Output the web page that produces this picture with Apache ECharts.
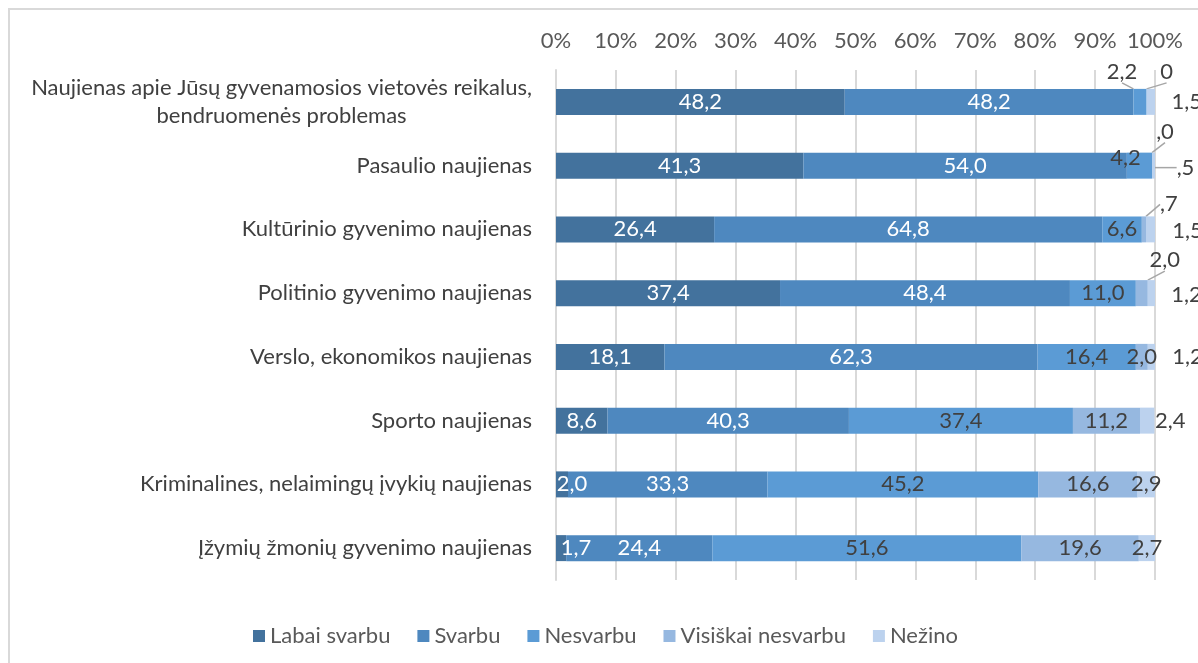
<!DOCTYPE html>
<html>
<head>
<meta charset="utf-8">
<script src="https://cdn.jsdelivr.net/npm/echarts@6/dist/echarts.min.js"></script>
<style>
  html, body { margin: 0; padding: 0; background: #fff; overflow: hidden; }
  #frame { position: absolute; left: 8px; top: 8px; width: 1300px; height: 700px; border: 2px solid #d9d9d9; box-sizing: border-box; }
  #chart { position: absolute; left: 0; top: 0; width: 1198px; height: 663px; }
</style>
</head>
<body>
<div id="frame"></div>
<div id="chart"></div>
<script>
// categories (top to bottom)
const categories = [
  'Naujienas apie Jūsų gyvenamosios vietovės reikalus,\nbendruomenės problemas',
  'Pasaulio naujienas',
  'Kultūrinio gyvenimo naujienas',
  'Politinio gyvenimo naujienas',
  'Verslo, ekonomikos naujienas',
  'Sporto naujienas',
  'Kriminalines, nelaimingų įvykių naujienas',
  'Įžymių žmonių gyvenimo naujienas'
];
const seriesNames = ['Labai svarbu', 'Svarbu', 'Nesvarbu', 'Visiškai nesvarbu', 'Nežino'];
const labaiSvarbu = [48.2, 41.3, 26.4, 37.4, 18.1, 8.6, 2.0, 1.7];
const svarbu = [48.2, 54.0, 64.8, 48.4, 62.3, 40.3, 33.3, 24.4];
const nesvarbu = [2.2, 4.2, 6.6, 11.0, 16.4, 37.4, 45.2, 51.6];
const visiskaiNesvarbu = [0, 0.0, 0.7, 2.0, 2.0, 11.2, 16.6, 19.6];
const nezino = [1.5, 0.5, 1.5, 1.2, 1.2, 2.4, 2.9, 2.7];
const tickLabels = ['0%', '10%', '20%', '30%', '40%', '50%', '60%', '70%', '80%', '90%', '100%'];

const colors = ['#43729d', '#4e88bf', '#5b9bd5', '#96b8e0', '#bcd2ee'];
const labelColors = ['#ffffff', '#ffffff', '#404040', '#404040', '#404040'];
const FONT = 'Lato';
const FS = 22;

// label nudges for the crowded small segments: [dx, dy, leader line]
const nudges = {
  0: { 6: [10, 0, false], 7: [15, 0, false] },
  2: { 0: [-18, -30, true], 1: [-14, -8, false] },
  3: { 0: [20, -30, true], 1: [13, -34, true], 2: [25, -25, true], 3: [23, -33, true] },
  4: { 0: [36, 0, false], 1: [32, 2, true], 2: [37, 2, false], 3: [35, 2, false], 4: [36, 0, false], 5: [23, 0, false] }
};

function fmt(v, si, di) {
  if (si === 3 && di === 0) return '0';
  let s = v.toFixed(1).replace('.', ',');
  if (v < 1) s = s.replace(/^0/, '');
  return s;
}

// centre the second line of the two-line category label under the first
const ctx = document.createElement('canvas').getContext('2d');
ctx.font = FS + 'px ' + FONT;
const twoLines = categories[0].split('\n');
const linePad = Math.max(0, (ctx.measureText(twoLines[0]).width - ctx.measureText(twoLines[1]).width) / 2);

const values = [labaiSvarbu, svarbu, nesvarbu, visiskaiNesvarbu, nezino];

const series = values.map((arr, si) => ({
  name: seriesNames[si],
  type: 'bar',
  stack: 'total',
  barWidth: 26,
  itemStyle: { color: colors[si] },
  label: {
    show: true,
    position: 'inside',
    fontFamily: FONT,
    fontSize: FS,
    color: labelColors[si],
    formatter: p => fmt(p.value, si, p.dataIndex)
  },
  labelLine: { show: false, lineStyle: { color: '#a6a6a6', width: 1.5 } },
  labelLayout: p => {
    const n = nudges[si] && nudges[si][p.dataIndex];
    return n ? { dx: n[0], dy: n[1], hideOverlap: false } : {};
  },
  data: arr.map((v, di) => {
    const n = nudges[si] && nudges[si][di];
    return n && n[2] ? { value: v, labelLine: { show: true } } : { value: v };
  })
}));

const chart = echarts.init(document.getElementById('chart'));
chart.setOption({
  animation: false,
  textStyle: { fontFamily: FONT },
  grid: { left: 556, right: 43, top: 70, bottom: 83, containLabel: false },
  legend: {
    left: 248,
    top: 620,
    icon: 'rect',
    itemWidth: 12,
    itemHeight: 12,
    itemGap: 27,
    textStyle: { fontFamily: FONT, fontSize: FS, color: '#595959' },
    data: seriesNames
  },
  xAxis: {
    type: 'value',
    position: 'top',
    min: 0,
    max: 100,
    interval: 10,
    axisLine: { show: false },
    axisTick: { show: false },
    splitLine: { show: true, lineStyle: { color: '#d9d9d9', width: 2 } },
    axisLabel: {
      fontFamily: FONT,
      fontSize: FS,
      color: '#595959',
      margin: 18,
      formatter: v => tickLabels[Math.round(v / 10)]
    }
  },
  yAxis: {
    type: 'category',
    inverse: true,
    data: categories,
    axisLine: { show: true, lineStyle: { color: '#d9d9d9', width: 2 } },
    axisTick: { show: false },
    axisLabel: {
      fontFamily: FONT,
      fontSize: FS,
      color: '#404040',
      margin: 24,
      lineHeight: 28,
      formatter: v => {
        if (v.indexOf('\n') < 0) return v;
        const parts = v.split('\n');
        return '{a|' + parts[0] + '}\n{b|' + parts[1] + '}';
      },
      rich: {
        a: { fontFamily: FONT, fontSize: FS, color: '#404040', lineHeight: 28 },
        b: { fontFamily: FONT, fontSize: FS, color: '#404040', lineHeight: 28, padding: [0, linePad, 0, 0] }
      }
    }
  },
  series: series
});
</script>
</body>
</html>
